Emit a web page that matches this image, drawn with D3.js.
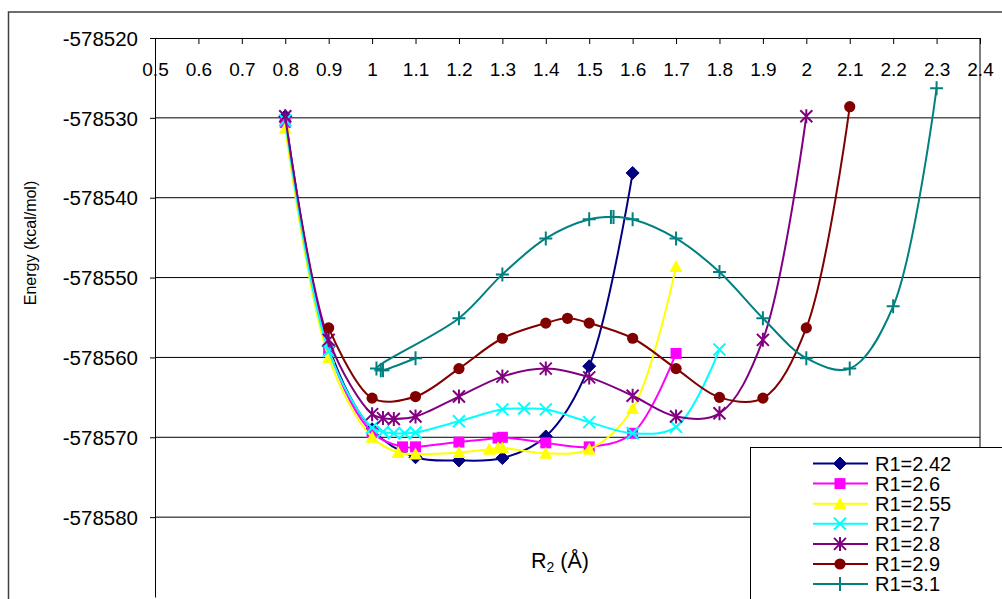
<!DOCTYPE html>
<html><head><meta charset="utf-8">
<script src="https://cdn.jsdelivr.net/npm/d3@7"></script>
<style>
html,body{margin:0;padding:0;background:#fff;overflow:hidden;}
svg{display:block;font-family:"Liberation Sans",Arial,sans-serif;}
</style></head>
<body>
<svg id="chart" width="1002" height="599"></svg>
<script>
// ---- data ----
const xTicks = [0.5,0.6,0.7,0.8,0.9,1,1.1,1.2,1.3,1.4,1.5,1.6,1.7,1.8,1.9,2,2.1,2.2,2.3,2.4];
const yTicks = [-578520,-578530,-578540,-578550,-578560,-578570,-578580];
const seriesNames = ["R1=2.42","R1=2.6","R1=2.55","R1=2.7","R1=2.8","R1=2.9","R1=3.1"];

const x242 = [0.8,0.9,1.0,1.1,1.2,1.3,1.4,1.5,1.6];
const e242 = [-578529.8,-578558.6,-578569.0,-578572.5,-578572.9,-578572.6,-578569.9,-578561.1,-578536.9];

const x260 = [0.8,0.9,1.0,1.07,1.1,1.2,1.29,1.3,1.4,1.5,1.6,1.7];
const e260 = [-578530.6,-578559.0,-578569.4,-578571.2,-578571.2,-578570.6,-578570.1,-578570.0,-578570.7,-578571.2,-578569.5,-578559.5];

const x255 = [0.8,0.9,1.0,1.06,1.1,1.2,1.27,1.29,1.3,1.4,1.5,1.6,1.7];
const e255 = [-578531.3,-578560.0,-578570.0,-578571.9,-578572.1,-578571.9,-578571.5,-578571.3,-578571.3,-578572.0,-578571.5,-578566.4,-578548.6];

const x270 = [0.8,0.9,1.0,1.025,1.05,1.075,1.1,1.2,1.3,1.35,1.4,1.5,1.6,1.7,1.8];
const e270 = [-578530.3,-578559.2,-578568.8,-578569.3,-578569.5,-578569.5,-578569.4,-578568.0,-578566.5,-578566.4,-578566.5,-578568.1,-578569.5,-578568.7,-578559.0];

const x280 = [0.8,0.9,1.0,1.025,1.05,1.1,1.2,1.3,1.4,1.5,1.6,1.7,1.8,1.9,2.0];
const e280 = [-578529.8,-578557.8,-578567.1,-578567.6,-578567.7,-578567.4,-578564.9,-578562.4,-578561.4,-578562.5,-578564.8,-578567.4,-578567.0,-578557.8,-578529.8];

const x290 = [0.9,1.0,1.1,1.2,1.3,1.4,1.45,1.5,1.6,1.7,1.8,1.9,2.0,2.1];
const e290 = [-578556.3,-578565.1,-578564.9,-578561.4,-578557.6,-578555.7,-578555.1,-578555.7,-578557.6,-578561.4,-578565.0,-578565.1,-578556.3,-578528.6];

const x310 = [1.1,1.025,1.02,1.01,1.2,1.3,1.4,1.5,1.55,1.556,1.6,1.7,1.8,1.9,2.0,2.1,2.2,2.3];
const e310 = [-578560.1,-578561.6,-578561.6,-578561.4,-578555.1,-578549.6,-578545.1,-578542.7,-578542.4,-578542.4,-578542.7,-578545.1,-578549.3,-578555.1,-578560.1,-578561.4,-578553.6,-578526.3];

const seriesX = [x242,x260,x255,x270,x280,x290,x310];
const seriesE = [e242,e260,e255,e270,e280,e290,e310];
const colors = ["#000080","#FF00FF","#FFFF00","#00FFFF","#800080","#800000","#008080"];
const markerTypes = ["diamond","square","triangle","x","asterisk","circle","plus"];

// ---- layout ----
const svg = d3.select("#chart");
const pLeft = 155, pRight = 980, pTop = 38, pBottom = 597;
const x = d3.scaleLinear().domain([0.5,2.4]).range([pLeft,pRight]);
const y = d3.scaleLinear().domain([-578520,-578590]).range([pTop,pBottom]);

// outer chart border
svg.append("rect").attr("x",8.5).attr("y",12).attr("width",1100).attr("height",700)
  .attr("fill","#fff").attr("stroke","#404040").attr("stroke-width",1.5);

// gridlines
svg.append("g").selectAll("line").data(yTicks.slice(1)).join("line")
  .attr("x1",pLeft).attr("x2",pRight).attr("y1",d=>y(d)).attr("y2",d=>y(d))
  .attr("stroke","#000").attr("stroke-width",1);

// right border of plot area
svg.append("line").attr("x1",pRight).attr("x2",pRight).attr("y1",pTop).attr("y2",pBottom)
  .attr("stroke","#000").attr("stroke-width",1);

// top x axis (ticks inward, labels below)
const xAxis = d3.axisBottom(x).tickValues(xTicks).tickSize(6).tickSizeOuter(0)
  .tickFormat(d=>String(+d.toFixed(1)));
const gx = svg.append("g").attr("transform",`translate(0,${pTop})`).call(xAxis);
gx.select(".domain").attr("stroke","#000");
gx.selectAll(".tick line").attr("stroke","#000");
gx.selectAll(".tick text").attr("font-size",19).attr("fill","#000").attr("dy",0).attr("y",38)
  .attr("font-family","Liberation Sans, Arial, sans-serif");

// left y axis
const yAxis = d3.axisLeft(y).tickValues(yTicks).tickSize(5).tickSizeOuter(0)
  .tickFormat(d=>String(d));
const gy = svg.append("g").attr("transform",`translate(${pLeft},0)`).call(yAxis);
gy.select(".domain").attr("stroke","#000");
gy.selectAll(".tick line").attr("stroke","#000");
gy.selectAll(".tick text").attr("font-size",20.5).attr("fill","#000").attr("x",-17).attr("dy","0.35em")
  .attr("font-family","Liberation Sans, Arial, sans-serif");

// axis titles
svg.append("text").attr("transform","translate(36,243) rotate(-90)").attr("text-anchor","middle")
  .attr("font-size",16).attr("fill","#000").text("Energy (kcal/mol)");
const xt = svg.append("text").attr("x",531).attr("y",568).attr("font-size",21.5).attr("fill","#000");
xt.append("tspan").text("R");
xt.append("tspan").attr("font-size",14).attr("dy",4).text("2");
xt.append("tspan").attr("dy",-4).text(" (Å)");

// marker drawing
function drawMarker(g, type, color){
  if(type==="diamond") g.append("path").attr("d","M0,-6.5L6.5,0L0,6.5L-6.5,0Z").attr("fill",color).attr("stroke",color);
  else if(type==="square") g.append("rect").attr("x",-5.5).attr("y",-5.5).attr("width",11).attr("height",11).attr("fill",color);
  else if(type==="triangle") g.append("path").attr("d","M0,-6.5L6.5,5.5L-6.5,5.5Z").attr("fill",color);
  else if(type==="circle") g.append("circle").attr("r",5.6).attr("fill",color);
  else if(type==="x") g.append("path").attr("d","M-6,-6L6,6M-6,6L6,-6").attr("stroke",color).attr("stroke-width",2).attr("fill","none");
  else if(type==="asterisk") g.append("path").attr("d","M-6,-6L6,6M-6,6L6,-6M0,-7L0,7").attr("stroke",color).attr("stroke-width",2).attr("fill","none");
  else if(type==="plus") g.append("path").attr("d","M-6.5,0L6.5,0M0,-7L0,7").attr("stroke",color).attr("stroke-width",2).attr("fill","none");
}

const line = d3.line().x(d=>x(d[0])).y(d=>y(d[1])).curve(d3.curveCatmullRom.alpha(0.5));
const plot = svg.append("g");
seriesNames.forEach((name,i)=>{
  const pts = seriesX[i].map((v,j)=>[v,seriesE[i][j]]);
  const g = plot.append("g");
  g.append("path").attr("d",line(pts)).attr("fill","none").attr("stroke",colors[i]).attr("stroke-width",2);
  pts.forEach(p=>{
    const m = g.append("g").attr("transform",`translate(${x(p[0])},${y(p[1])})`);
    drawMarker(m, markerTypes[i], colors[i]);
  });
});

// legend
const lg = svg.append("g");
lg.append("rect").attr("x",750.5).attr("y",447.5).attr("width",400).attr("height",300)
  .attr("fill","#fff").attr("stroke","#000").attr("stroke-width",1);
seriesNames.forEach((name,i)=>{
  const cy = 463.5 + i*20.1;
  lg.append("line").attr("x1",813).attr("x2",868).attr("y1",cy).attr("y2",cy)
    .attr("stroke",colors[i]).attr("stroke-width",2);
  const m = lg.append("g").attr("transform",`translate(840,${cy})`);
  drawMarker(m, markerTypes[i], colors[i]);
  lg.append("text").attr("x",875).attr("y",cy).attr("dy","0.36em").attr("font-size",20)
    .attr("fill","#000").text(name);
});
</script>
</body></html>
